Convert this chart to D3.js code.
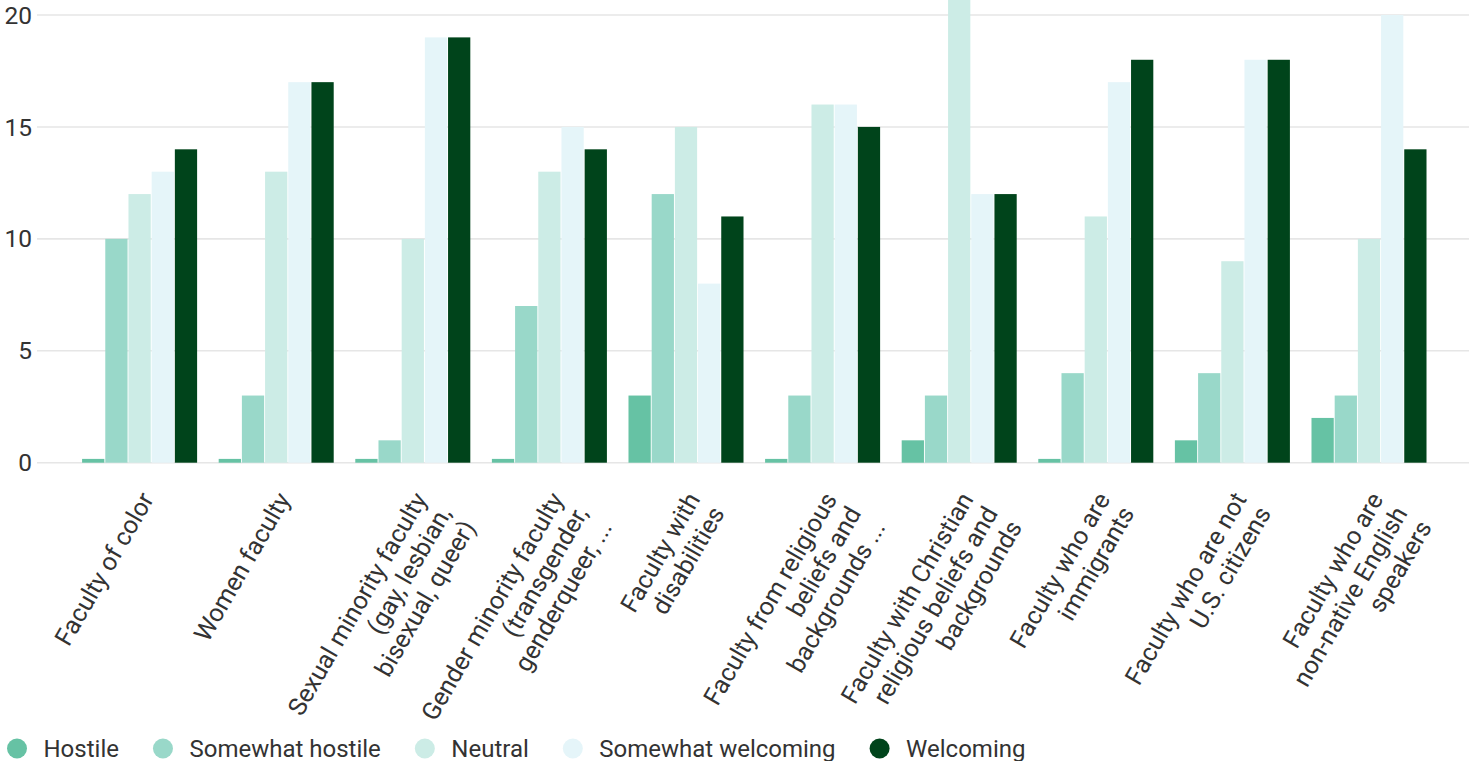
<!DOCTYPE html>
<html>
<head>
<meta charset="utf-8">
<script src="https://cdn.jsdelivr.net/npm/d3@7/dist/d3.min.js"></script>
<style>
  html, body { margin: 0; padding: 0; background: #fff; }
  svg { display: block; }
  text { font-family: Roboto, "Noto Sans", sans-serif; fill: #333; }
</style>
</head>
<body>
<svg id="chart" width="1469" height="761"></svg>
<script>
// Climate ratings for faculty groups: counts of responses per rating
const categories = [
  ["Faculty of color"],
  ["Women faculty"],
  ["Sexual minority faculty", "(gay, lesbian,", "bisexual, queer)"],
  ["Gender minority faculty", "(transgender,", "genderqueer, ..."],
  ["Faculty with", "disabilities"],
  ["Faculty from religious", "beliefs and", "backgrounds ..."],
  ["Faculty with Christian", "religious beliefs and", "backgrounds"],
  ["Faculty who are", "immigrants"],
  ["Faculty who are not", "U.S. citizens"],
  ["Faculty who are", "non-native English", "speakers"]
];
const seriesNames = ["Hostile", "Somewhat hostile", "Neutral", "Somewhat welcoming", "Welcoming"];
const seriesColors = ["#66c2a4", "#99d8c9", "#ccece6", "#e5f5f9", "#00441b"];

const hostile           = [0, 0, 0, 0, 3, 0, 1, 0, 1, 2];
const somewhatHostile   = [10, 3, 1, 7, 12, 3, 3, 4, 4, 3];
const neutral           = [12, 13, 10, 13, 15, 16, 21, 11, 9, 10];
const somewhatWelcoming = [13, 17, 19, 15, 8, 16, 12, 17, 18, 20];
const welcoming         = [14, 17, 19, 14, 11, 15, 12, 18, 18, 14];

const yTicks = [0, 5, 10, 15, 20];

const seriesValues = [hostile, somewhatHostile, neutral, somewhatWelcoming, welcoming];
const catKeys = categories.map(c => c.join(" "));

const svg = d3.select("#chart");

const x0 = d3.scaleBand()
  .domain(catKeys)
  .range([71.3, 1437.3])
  .paddingInner(0.158)
  .paddingOuter(0.079);

const x1 = d3.scaleBand()
  .domain(seriesNames)
  .range([0, x0.bandwidth()])
  .paddingInner(0.04);

const y = d3.scaleLinear()
  .domain([0, 20])
  .range([462.7, 15]);

const color = d3.scaleOrdinal().domain(seriesNames).range(seriesColors);

// gridlines + y tick labels
const grid = svg.append("g");
grid.selectAll("line")
  .data(yTicks)
  .join("line")
  .attr("x1", 37).attr("x2", 1469)
  .attr("y1", d => y(d)).attr("y2", d => y(d))
  .attr("stroke", "#e6e6e6")
  .attr("stroke-width", 1.6);
grid.selectAll("text")
  .data(yTicks)
  .join("text")
  .attr("x", 32)
  .attr("y", d => y(d))
  .attr("dy", "0.35em")
  .attr("text-anchor", "end")
  .style("font-size", "24.5px")
  .text(d => d);

// grouped bars
const groups = svg.append("g")
  .selectAll("g")
  .data(catKeys)
  .join("g")
  .attr("transform", d => `translate(${x0(d)},0)`);

const minH = 3.8;
groups.selectAll("rect")
  .data((d, i) => seriesNames.map((s, j) => ({ s, v: seriesValues[j][i] })))
  .join("rect")
  .attr("x", d => x1(d.s))
  .attr("width", x1.bandwidth())
  .attr("y", d => Math.min(y(d.v), y(0) - minH))
  .attr("height", d => Math.max(y(0) - y(d.v), minH))
  .attr("fill", d => color(d.s));

// rotated category labels
const lineH = 28;
const labels = svg.append("g")
  .selectAll("text")
  .data(categories)
  .join("text")
  .attr("transform", (d, i) => `translate(${x0(catKeys[i]) + x0.bandwidth() / 2 + 15},499) rotate(-60)`)
  .attr("text-anchor", "end")
  .style("font-size", "25px");
labels.selectAll("tspan")
  .data(d => d)
  .join("tspan")
  .attr("x", 0)
  .attr("y", (d, i) => i * lineH)
  .text(d => d);

// legend
const legend = svg.append("g");
let cursor = 7;
seriesNames.forEach((s, i) => {
  const cx = cursor + 10;
  legend.append("circle")
    .attr("cx", cx).attr("cy", 748.5).attr("r", 10)
    .attr("fill", seriesColors[i]);
  const t = legend.append("text")
    .attr("x", cx + 26.5)
    .attr("y", 757)
    .style("font-size", "24px")
    .text(s);
  const w = t.node().getComputedTextLength();
  cursor = cx + 26.5 + w + 34;
});
</script>
</body>
</html>
